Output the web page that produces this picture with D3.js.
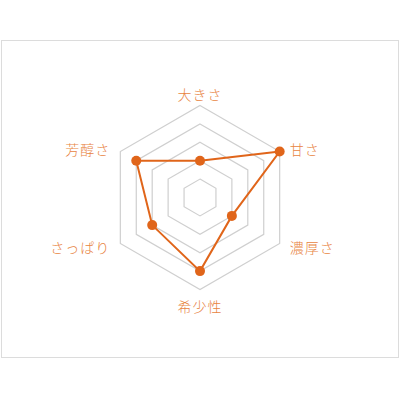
<!DOCTYPE html>
<html>
<head>
<meta charset="utf-8">
<script src="https://cdn.jsdelivr.net/npm/d3@7"></script>
<style>
  body { margin: 0; background: #fff; }
  svg { display: block; }
</style>
</head>
<body>
<svg id="chart" width="400" height="400"></svg>
<script>
// axes clockwise from the top
const categories = ["大きさ", "甘さ", "濃厚さ", "希少性", "さっぱり", "芳醇さ"];
const values = [2, 5, 2, 4, 3, 4];
const levels = [1, 2, 3, 4, 5];

const width = 400, height = 400;
const cx = 200, cy = 197.5, radius = 92;
const lineColor = "#e0651a";
const labelColor = "#e8843f";

const svg = d3.select("#chart");

// frame
svg.append("rect")
  .attr("x", 1.5).attr("y", 40.5)
  .attr("width", 397).attr("height", 317)
  .attr("fill", "none")
  .attr("stroke", "#dcdcdc")
  .attr("stroke-width", 1);

const g = svg.append("g").attr("transform", `translate(${cx},${cy})`);

const r = d3.scaleLinear().domain([0, 5]).range([0, radius]);
const angle = i => (i * 2 * Math.PI) / categories.length;

const radial = d3.lineRadial()
  .angle((d, i) => angle(i))
  .radius(d => r(d))
  .curve(d3.curveLinearClosed);

// grid hexagons
g.selectAll(".grid")
  .data(levels)
  .enter()
  .append("path")
  .attr("class", "grid")
  .attr("d", lv => radial(categories.map(() => lv)))
  .attr("fill", "none")
  .attr("stroke", "#cfcfcf")
  .attr("stroke-width", 1.2);

// data polygon
g.append("path")
  .attr("d", radial(values))
  .attr("fill", "none")
  .attr("stroke", lineColor)
  .attr("stroke-width", 2);

const pt = (v, i) => [r(v) * Math.sin(angle(i)), -r(v) * Math.cos(angle(i))];

g.selectAll(".dot")
  .data(values)
  .enter()
  .append("circle")
  .attr("class", "dot")
  .attr("cx", (d, i) => pt(d, i)[0])
  .attr("cy", (d, i) => pt(d, i)[1])
  .attr("r", 5)
  .attr("fill", lineColor);

// labels
g.selectAll(".label")
  .data(categories)
  .enter()
  .append("text")
  .attr("class", "label")
  .attr("x", (d, i) => {
    const s = Math.sin(angle(i));
    return Math.abs(s) < 0.01 ? 0 : r(5) * s + (s > 0 ? 10 : -10);
  })
  .attr("y", (d, i) => {
    const c = Math.cos(angle(i));
    const base = -r(5) * c;
    if (Math.abs(Math.sin(angle(i))) < 0.01) return base + (c > 0 ? -12 : 16);
    return base + (c > 0 ? -3 : 3);
  })
  .attr("text-anchor", (d, i) => {
    const s = Math.sin(angle(i));
    return Math.abs(s) < 0.01 ? "middle" : (s > 0 ? "start" : "end");
  })
  .attr("dominant-baseline", "central")
  .attr("fill", labelColor)
  .attr("font-family", "'Noto Sans CJK JP', sans-serif")
  .attr("font-weight", 300)
  .attr("font-size", 14)
  .attr("letter-spacing", 1)
  .text(d => d);
</script>
</body>
</html>
